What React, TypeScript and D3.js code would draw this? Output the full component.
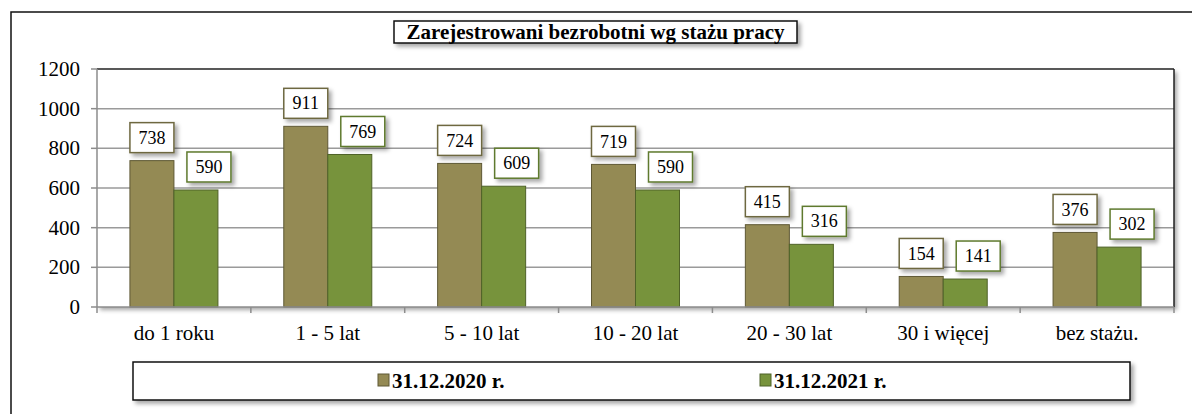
import * as d3 from "d3";

const categories = ["do 1 roku", "1 - 5 lat", "5 - 10 lat", "10 - 20 lat", "20 - 30 lat", "30 i więcej", "bez stażu."];
const series2020 = [738, 911, 724, 719, 415, 154, 376];
const series2021 = [590, 769, 609, 590, 316, 141, 302];
const seriesNames = ["31.12.2020 r.", "31.12.2021 r."];
const yTicks = [0, 200, 400, 600, 800, 1000, 1200];

const W = 1192;
const H = 414;
const plot = { left: 97, right: 1174, top: 69, bottom: 307 };
const fill = ["#948A54", "#77933C"];
const edge = ["#5E5834", "#4F6228"];
const boxEdge = ["#6E6840", "#5F7A2E"];
const FONT = "Liberation Serif, Times New Roman, DejaVu Serif, serif";
const txt = { fontFamily: FONT };

export default function App() {
  const x = d3
    .scaleBand<string>()
    .domain(categories)
    .range([plot.left, plot.right])
    .paddingInner(0.428)
    .paddingOuter(0.214);
  const sub = d3.scaleBand<number>().domain([0, 1]).range([0, x.bandwidth()]);
  const y = d3.scaleLinear().domain([0, 1200]).range([plot.bottom, plot.top]);
  const series = [series2020, series2021];
  const step = x.step();
  const boxW = 44;
  const boxH = 30;
  const labelDx = [0, 13];

  return (
    <svg
      width={W}
      height={H}
      style={{ position: "absolute", left: 0, top: 0, background: "#fff", fontFamily: FONT }}
    >
      <defs>
        <filter id="sh" x="-20%" y="-20%" width="150%" height="160%">
          <feDropShadow dx="3" dy="3" stdDeviation="2" floodColor="#000" floodOpacity="0.35" />
        </filter>
      </defs>

      {/* outer chart frame */}
      <rect x={11} y={12} width={1220} height={430} fill="#fff" stroke="#111" strokeWidth={1.5} />

      {/* plot area */}
      <rect
        x={plot.left}
        y={plot.top}
        width={plot.right - plot.left}
        height={plot.bottom - plot.top}
        fill="#fff"
        filter="url(#sh)"
      />
      {yTicks.slice(1, -1).map((t) => (
        <line key={t} x1={plot.left} x2={plot.right} y1={y(t)} y2={y(t)} stroke="#9A9A9A" strokeWidth={1.5} />
      ))}
      <line x1={plot.left} x2={plot.right} y1={plot.top} y2={plot.top} stroke="#222" strokeWidth={1.5} />
      <line x1={plot.right} x2={plot.right} y1={plot.top} y2={plot.bottom} stroke="#222" strokeWidth={1.5} />
      <line x1={plot.left} x2={plot.left} y1={plot.top} y2={plot.bottom} stroke="#8C8C8C" strokeWidth={1.5} />

      {/* y ticks */}
      {yTicks.map((t) => (
        <g key={t}>
          <line x1={plot.left - 6} x2={plot.left} y1={y(t)} y2={y(t)} stroke="#8C8C8C" strokeWidth={1.5} />
          <text x={80} y={y(t)} dy="0.34em" textAnchor="end" fontSize={21} fill="#000" style={txt}>
            {t}
          </text>
        </g>
      ))}

      {/* bars */}
      {categories.map((c, i) =>
        series.map((s, k) => (
          <rect
            key={c + k}
            x={(x(c) ?? 0) + (sub(k) ?? 0)}
            y={y(s[i])}
            width={sub.bandwidth()}
            height={y(0) - y(s[i])}
            fill={fill[k]}
            stroke={edge[k]}
            strokeWidth={1}
          />
        ))
      )}

      {/* x axis */}
      <line x1={plot.left} x2={plot.right} y1={plot.bottom} y2={plot.bottom} stroke="#8C8C8C" strokeWidth={1.5} />
      {d3.range(categories.length + 1).map((j) => (
        <line
          key={j}
          x1={plot.left + j * step}
          x2={plot.left + j * step}
          y1={plot.bottom}
          y2={plot.bottom + 6}
          stroke="#8C8C8C"
          strokeWidth={1.5}
        />
      ))}
      {categories.map((c) => (
        <text key={c} x={(x(c) ?? 0) + x.bandwidth() / 2} y={340} textAnchor="middle" fontSize={21} fill="#000" style={txt}>
          {c}
        </text>
      ))}

      {/* data labels */}
      {categories.map((c, i) =>
        series.map((s, k) => {
          const cx = (x(c) ?? 0) + (sub(k) ?? 0) + sub.bandwidth() / 2 + labelDx[k];
          const by = y(s[i]) - 8;
          return (
            <g key={"l" + c + k}>
              <rect
                x={cx - boxW / 2}
                y={by - boxH}
                width={boxW}
                height={boxH}
                fill="#fff"
                stroke={boxEdge[k]}
                strokeWidth={1.5}
                filter="url(#sh)"
              />
              <text x={cx} y={by - boxH / 2} dy="0.34em" textAnchor="middle" fontSize={18} fill="#000" style={txt}>
                {s[i]}
              </text>
            </g>
          );
        })
      )}

      {/* title */}
      <rect x={394} y={21} width={403} height={22} fill="#fff" stroke="#111" strokeWidth={1.5} filter="url(#sh)" />
      <text x={595.5} y={32} dy="0.34em" textAnchor="middle" fontSize={21} fontWeight="bold" fill="#000" style={txt}>
        Zarejestrowani bezrobotni wg stażu pracy
      </text>

      {/* legend */}
      <rect x={133} y={362} width={997} height={38} fill="#fff" stroke="#111" strokeWidth={1.5} filter="url(#sh)" />
      {seriesNames.map((n, k) => {
        const lx = [378, 760][k];
        return (
          <g key={n}>
            <rect x={lx} y={374} width={11} height={12} fill={fill[k]} stroke={edge[k]} strokeWidth={1} />
            <text x={lx + 14} y={381} dy="0.34em" fontSize={21} fontWeight="bold" fill="#000" style={txt}>
              {n}
            </text>
          </g>
        );
      })}
    </svg>
  );
}
